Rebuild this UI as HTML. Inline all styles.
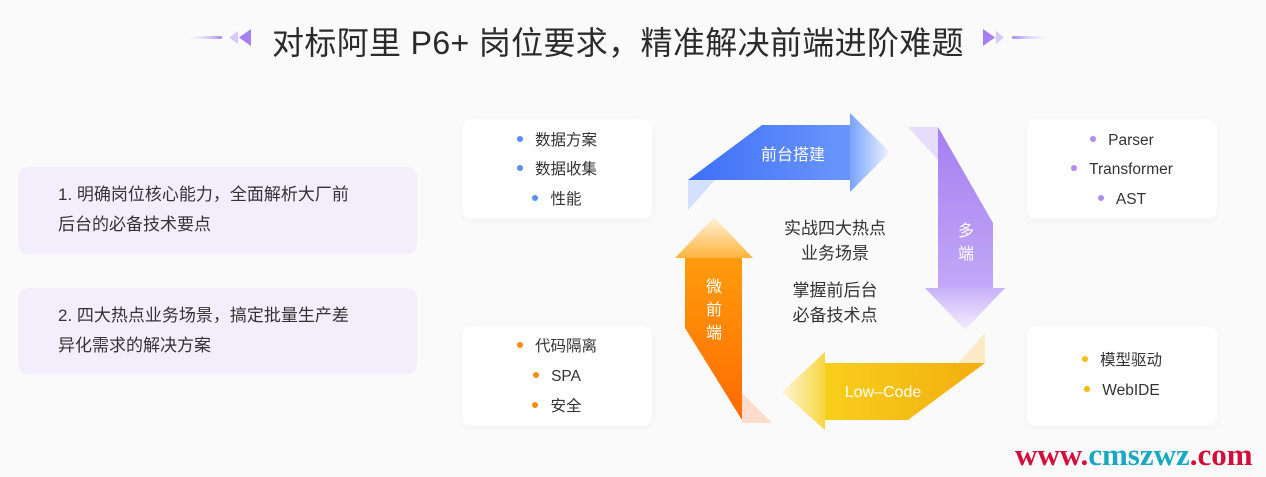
<!DOCTYPE html>
<html><head><meta charset="utf-8"><style>
*{margin:0;padding:0;box-sizing:border-box}
body{width:1266px;height:477px;background:#fafafb;position:relative;overflow:hidden;font-family:"Liberation Sans","Noto Sans CJK SC",sans-serif;color:#333}
.title{position:absolute;left:272px;width:720px;top:18px;text-align:left;font-size:32px;color:#2b2b2b;white-space:nowrap;letter-spacing:0.35px}
.lb{position:absolute;left:18px;width:399px;background:#f3eefc;border-radius:10px;padding:13px 0 0 40px;font-size:17px;line-height:30px;color:#333}
.card{position:absolute;width:190px;height:100px;background:#fff;border-radius:9px;box-shadow:0 2px 8px rgba(0,0,0,0.04);font-size:15.5px;color:#333}
.card div{position:absolute;left:0;width:190px;text-align:center;line-height:20px}
.card span{display:inline-block;width:6px;height:6px;border-radius:50%;margin-right:12px;vertical-align:middle;position:relative;top:-2px}
.ct{position:absolute;left:760px;width:150px;text-align:center;font-size:17px;line-height:25px;color:#333}
.wm{position:absolute;left:1015px;top:437px;font-family:"Liberation Serif",serif;font-weight:bold;font-size:31px;color:#d0103a;white-space:nowrap}
</style></head><body>
<svg width="1266" height="477" style="position:absolute;left:0;top:0">
<defs>
<linearGradient id="lg1" x1="0" x2="1"><stop offset="0" stop-color="#fff" stop-opacity="0"/><stop offset="1" stop-color="#a48af0"/></linearGradient>
<linearGradient id="lg2" x1="0" x2="1"><stop offset="0" stop-color="#a48af0"/><stop offset="1" stop-color="#fff" stop-opacity="0"/></linearGradient>
<linearGradient id="gb" x1="0" x2="1"><stop offset="0" stop-color="#3d6ff8"/><stop offset="1" stop-color="#6a96fb"/></linearGradient>
<linearGradient id="gbh" x1="0" x2="1"><stop offset="0" stop-color="#7aa2fb"/><stop offset="1" stop-color="#eef3ff"/></linearGradient>
<linearGradient id="gp" x1="0" x2="0" y1="0" y2="1"><stop offset="0" stop-color="#a57ff1"/><stop offset="1" stop-color="#c2a8f7"/></linearGradient>
<linearGradient id="gph" x1="0" x2="0" y1="0" y2="1"><stop offset="0" stop-color="#c8b0f8"/><stop offset="1" stop-color="#f4eefe"/></linearGradient>
<linearGradient id="gy" x1="0" x2="1"><stop offset="0" stop-color="#f8cf1c"/><stop offset="1" stop-color="#f2ad10"/></linearGradient>
<linearGradient id="gyh" x1="1" x2="0"><stop offset="0" stop-color="#f8d640"/><stop offset="1" stop-color="#fdf6d8"/></linearGradient>
<linearGradient id="go" x1="0" x2="0" y1="0" y2="1"><stop offset="0" stop-color="#ff9c0c"/><stop offset="1" stop-color="#ff6a00"/></linearGradient>
<linearGradient id="goh" x1="0" x2="0" y1="1" y2="0"><stop offset="0" stop-color="#ffb43c"/><stop offset="1" stop-color="#fff3dc"/></linearGradient>
</defs>
<rect x="182" y="36" width="40" height="3" rx="1.5" fill="url(#lg1)"/>
<path d="M238 31 L229 37.5 L238 44Z" fill="#d8c8fb"/>
<path d="M251 29 L239 37.5 L251 46Z" fill="#a67ff2"/>
<path d="M983 29 L995 37.5 L983 46Z" fill="#a67ff2"/>
<path d="M996 31 L1004 37.5 L996 44Z" fill="#d8c8fb"/>
<rect x="1012" y="36" width="42" height="3" rx="1.5" fill="url(#lg2)"/>
<path d="M688 180 L715 180 L688 210Z" fill="#d4e0fe"/>
<path d="M762 125 L850 125 L850 180 L688 180Z" fill="url(#gb)"/>
<path d="M850 113 L890 152 L850 192Z" fill="url(#gbh)"/>
<path d="M908 127 L938 127 L938 160Z" fill="#e6dcfc"/>
<path d="M938 127 L993 223 L993 288 L938 288Z" fill="url(#gp)"/>
<path d="M925 288 L1005 288 L965 330Z" fill="url(#gph)"/>
<path d="M985 363 L958 363 L985 333Z" fill="#fcebc8"/>
<path d="M825 363 L985 363 L908 420 L825 420Z" fill="url(#gy)"/>
<path d="M825 352 L782 392 L825 430Z" fill="url(#gyh)"/>
<path d="M742 393 L742 423 L772 423Z" fill="#fddccc"/>
<path d="M685 258 L742 258 L742 420 L685 328Z" fill="url(#go)"/>
<path d="M675 258 L753 258 L714 217Z" fill="url(#goh)"/>
<g font-size="16" fill="#fff" font-family="Liberation Sans,Noto Sans CJK SC,sans-serif" text-anchor="middle">
<text x="793" y="160">前台搭建</text>
<text x="966" y="236">多</text>
<text x="966" y="259">端</text>
<text x="883" y="397">Low–Code</text>
<text x="714" y="292">微</text>
<text x="714" y="315">前</text>
<text x="714" y="338">端</text>
</g>
</svg>
<div class="title">对标阿里 P6+ 岗位要求，精准解决前端进阶难题</div>
<div class="lb" style="top:167px;height:87px">1. 明确岗位核心能力，全面解析大厂前<br>后台的必备技术要点</div>
<div class="lb" style="top:288px;height:86px">2. 四大热点业务场景，搞定批量生产差<br>异化需求的解决方案</div>
<div class="card" style="left:462px;top:119px">
<div style="top:12px"><span style="background:#5b8cf9"></span>数据方案</div>
<div style="top:41px"><span style="background:#5b8cf9"></span>数据收集</div>
<div style="top:71px"><span style="background:#5b8cf9"></span>性能</div></div>
<div class="card" style="left:1027px;top:119px">
<div style="top:12px"><span style="background:#b48af5"></span>Parser</div>
<div style="top:41px"><span style="background:#b48af5"></span>Transformer</div>
<div style="top:71px"><span style="background:#b48af5"></span>AST</div></div>
<div class="card" style="left:462px;top:326px">
<div style="top:11px"><span style="background:#fb8c0a"></span>代码隔离</div>
<div style="top:41px"><span style="background:#fb8c0a"></span>SPA</div>
<div style="top:71px"><span style="background:#fb8c0a"></span>安全</div></div>
<div class="card" style="left:1027px;top:326px">
<div style="top:25px"><span style="background:#f6bc12"></span>模型驱动</div>
<div style="top:55px"><span style="background:#f6bc12"></span>WebIDE</div></div>
<div class="ct" style="top:216px">实战四大热点<br>业务场景</div>
<div class="ct" style="top:278px">掌握前后台<br>必备技术点</div>
<div class="wm">www.<span style="color:#1aa8c0">cmszwz</span>.com</div>
</body></html>
